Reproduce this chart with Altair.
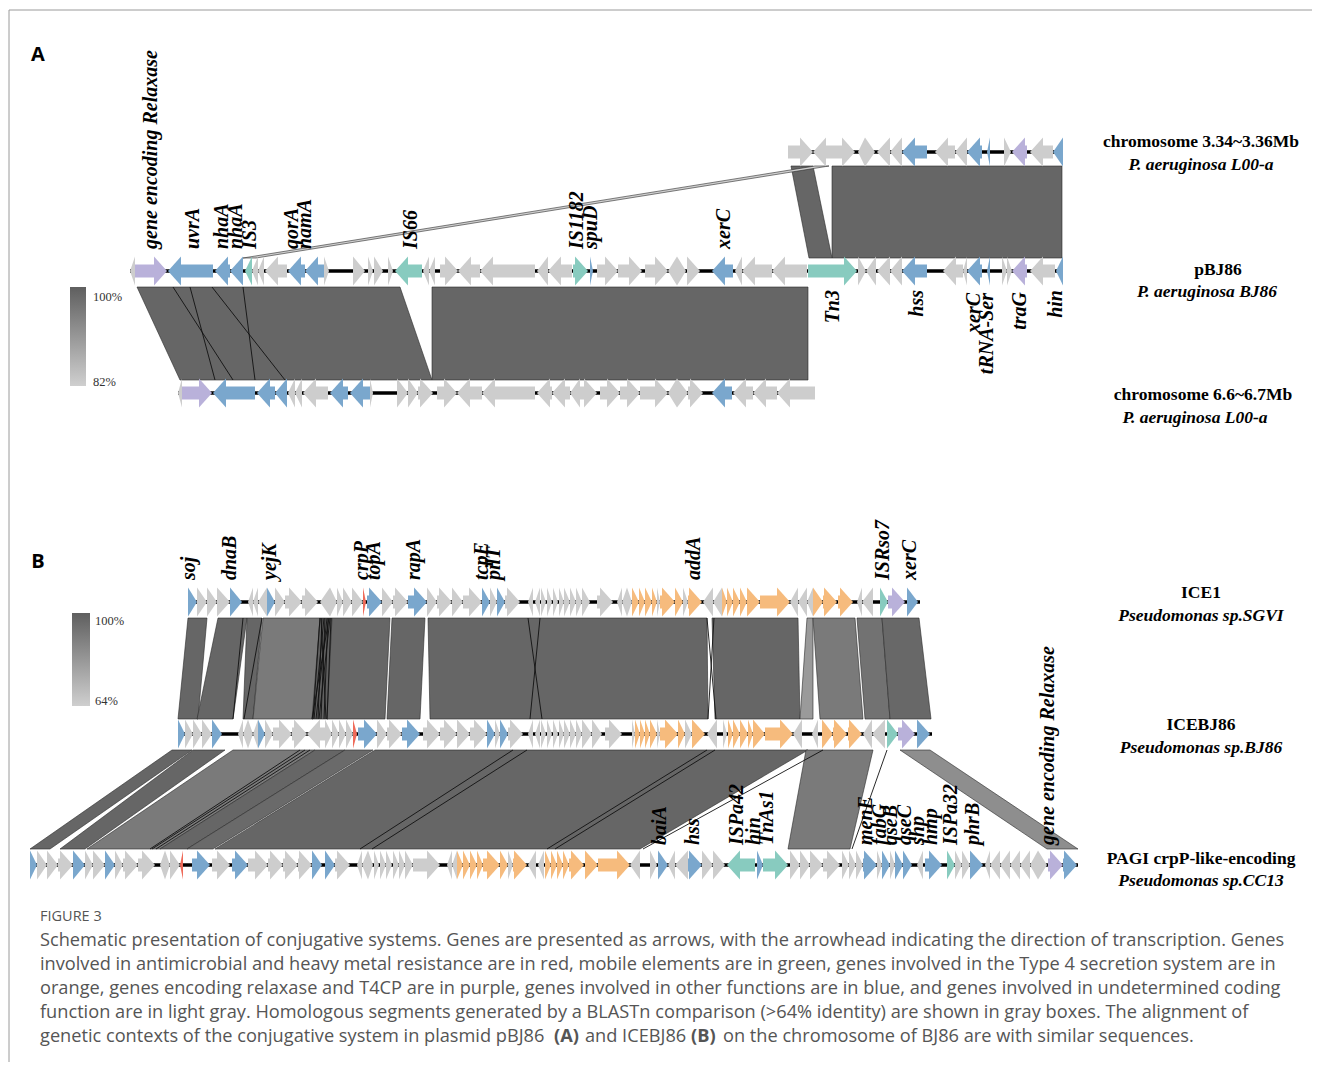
import altair as alt
import pandas as pd

# ---------------- gene data: (start, end, strand, kind) ----------------
A1_genes = [
    (788, 813, 1, 'g'), (813, 828, -1, 'g'), (828, 855, 1, 'g'), (858, 865, -1, 'g'),
    (865, 875, 1, 'g'), (877, 890, -1, 'g'), (890, 902, -1, 'g'), (902, 927, -1, 'b'),
    (935, 955, -1, 'g'), (955, 967, -1, 'g'), (967, 982, -1, 'b'), (987, 990, -1, 'b'),
    (1004, 1011, 1, 'g'), (1012, 1027, -1, 'p'), (1030, 1053, -1, 'g'), (1053, 1063, -1, 'b'),
]
A2_genes = [
    (130, 135, -1, 'g'), (135, 167, 1, 'p'), (168, 213, -1, 'b'), (215, 230, -1, 'b'),
    (230, 243, -1, 'b'), (245, 252, -1, 't'), (252, 258, -1, 'g'), (258, 264, -1, 'g'),
    (265, 287, -1, 'g'), (288, 305, -1, 'b'), (305, 324, -1, 'b'), (324, 329, 1, 'g'),
    (353, 365, 1, 'g'), (368, 373, 1, 'g'), (374, 383, 1, 'g'), (388, 393, 1, 'g'),
    (395, 422, -1, 't'), (423, 429, -1, 'g'), (429, 435, -1, 'g'), (440, 458, 1, 'g'),
    (458, 480, -1, 'g'), (480, 535, -1, 'g'), (537, 548, -1, 'g'), (548, 572, -1, 'g'),
    (573, 588, 1, 't'), (590, 593, 1, 'b'), (597, 618, 1, 'g'), (618, 642, 1, 'g'),
    (645, 668, 1, 'g'), (668, 677, -1, 'g'), (677, 686, 1, 'g'), (687, 700, 1, 'g'),
    (712, 733, -1, 'b'), (735, 742, -1, 'g'), (742, 772, -1, 'g'), (772, 807, -1, 'g'),
    (808, 857, 1, 't'), (858, 866, 1, 'g'), (866, 876, -1, 'g'), (877, 890, -1, 'g'),
    (890, 902, -1, 'g'), (902, 927, -1, 'b'), (943, 963, -1, 'g'), (963, 967, -1, 'g'),
    (967, 982, -1, 'b'), (987, 990, -1, 'b'), (1002, 1007, 1, 'g'), (1007, 1012, 1, 'g'),
    (1012, 1027, -1, 'p'), (1030, 1055, -1, 'g'), (1056, 1063, -1, 'b'),
]
A3_genes = [
    (178, 182, -1, 'g'), (182, 212, 1, 'p'), (213, 255, -1, 'b'), (257, 275, -1, 'b'),
    (275, 287, -1, 'b'), (288, 295, -1, 'g'), (295, 302, -1, 'g'), (303, 328, -1, 'g'),
    (330, 348, -1, 'b'), (350, 370, -1, 'b'), (370, 373, 1, 'g'), (397, 408, 1, 'g'),
    (408, 418, 1, 'g'), (418, 433, 1, 'g'), (437, 457, 1, 'g'), (457, 482, -1, 'g'),
    (482, 535, -1, 'g'), (537, 552, -1, 'g'), (552, 570, -1, 'g'), (570, 580, -1, 'g'),
    (580, 597, 1, 'g'), (600, 620, 1, 'g'), (620, 640, 1, 'g'), (640, 668, 1, 'g'),
    (668, 677, -1, 'g'), (677, 688, 1, 'g'), (688, 703, 1, 'g'), (712, 732, -1, 'b'),
    (733, 753, -1, 'g'), (753, 777, -1, 'g'), (777, 815, -1, 'g'),
]
B1_genes = [
    (188, 197, 1, 'b'), (197, 207, 1, 'g'), (207, 217, 1, 'g'), (217, 230, 1, 'g'),
    (230, 242, 1, 'b'), (248, 253, -1, 'g'), (253, 258, -1, 'g'), (258, 267, -1, 'g'),
    (267, 275, 1, 'b'), (275, 285, 1, 'g'), (285, 302, 1, 'g'), (302, 318, 1, 'g'),
    (320, 330, -1, 'g'), (330, 337, 1, 'g'), (337, 343, 1, 'g'), (343, 352, 1, 'g'),
    (352, 363, 1, 'g'), (363, 366, 1, 'r'), (367, 382, 1, 'b'), (382, 393, 1, 'g'),
    (393, 408, 1, 'g'), (408, 427, 1, 'b'), (427, 437, 1, 'g'), (437, 452, 1, 'g'),
    (452, 463, 1, 'g'), (463, 482, 1, 'g'), (482, 490, 1, 'b'), (490, 497, 1, 'g'),
    (497, 505, 1, 'b'), (505, 520, 1, 'g'), (528, 533, -1, 'g'), (535, 540, -1, 'g'),
    (541, 546, 1, 'g'), (547, 552, 1, 'g'), (553, 558, 1, 'g'), (559, 564, 1, 'g'),
    (564, 570, 1, 'g'), (570, 576, 1, 'g'), (576, 582, 1, 'g'), (582, 590, 1, 'g'),
    (597, 613, 1, 'g'), (617, 622, -1, 'g'), (622, 627, -1, 'g'), (627, 632, 1, 'g'),
    (632, 639, 1, 'o'), (639, 645, 1, 'o'), (645, 652, 1, 'o'), (652, 657, 1, 'o'),
    (657, 660, 1, 'g'), (660, 675, 1, 'o'), (675, 683, 1, 'o'), (683, 688, 1, 'g'),
    (688, 702, 1, 'o'), (703, 713, -1, 'g'), (713, 722, -1, 'g'), (722, 727, 1, 'o'),
    (727, 733, 1, 'o'), (733, 740, 1, 'o'), (740, 747, 1, 'o'), (747, 760, 1, 'o'),
    (760, 790, 1, 'o'), (790, 798, -1, 'g'), (798, 807, -1, 'g'), (807, 813, -1, 'g'),
    (813, 823, 1, 'o'), (823, 837, 1, 'o'), (838, 853, 1, 'o'), (857, 862, -1, 'g'),
    (862, 873, -1, 'g'), (880, 888, 1, 't'), (888, 905, 1, 'p'), (907, 918, 1, 'b'),
]
B2_genes = [
    (178, 185, 1, 'b'), (185, 193, 1, 'g'), (193, 202, 1, 'g'), (202, 212, 1, 'g'),
    (212, 222, 1, 'b'), (238, 243, -1, 'g'), (243, 248, -1, 'g'), (248, 253, 1, 'g'),
    (253, 258, -1, 'g'), (258, 265, 1, 'b'), (265, 273, 1, 'g'), (273, 292, 1, 'g'),
    (292, 307, 1, 'g'), (307, 325, -1, 'g'), (325, 332, 1, 'g'), (332, 339, 1, 'g'),
    (339, 346, 1, 'g'), (346, 353, 1, 'g'), (353, 357, 1, 'r'), (358, 377, 1, 'b'),
    (377, 387, 1, 'g'), (387, 402, 1, 'g'), (402, 420, 1, 'b'), (423, 440, 1, 'g'),
    (440, 457, 1, 'g'), (457, 470, 1, 'g'), (470, 487, 1, 'g'), (487, 495, 1, 'b'),
    (495, 500, 1, 'g'), (500, 508, 1, 'b'), (508, 523, 1, 'g'), (528, 533, -1, 'g'),
    (535, 540, -1, 'g'), (541, 546, 1, 'g'), (547, 552, 1, 'g'), (553, 558, 1, 'g'),
    (559, 564, 1, 'g'), (564, 570, 1, 'g'), (570, 576, 1, 'g'), (576, 582, 1, 'g'),
    (582, 592, 1, 'g'), (592, 602, 1, 'g'), (605, 622, 1, 'g'), (632, 635, 1, 'g'),
    (635, 640, 1, 'o'), (640, 645, 1, 'o'), (645, 650, 1, 'o'), (650, 657, 1, 'o'),
    (657, 660, 1, 'g'), (660, 678, 1, 'o'), (678, 685, 1, 'o'), (685, 692, 1, 'g'),
    (692, 705, 1, 'o'), (707, 717, -1, 'g'), (723, 727, 1, 'g'), (728, 733, 1, 'o'),
    (733, 740, 1, 'o'), (740, 748, 1, 'o'), (748, 753, 1, 'o'), (753, 765, 1, 'o'),
    (765, 793, 1, 'o'), (793, 802, -1, 'g'), (812, 818, -1, 'g'), (822, 833, 1, 'o'),
    (833, 847, 1, 'o'), (848, 862, 1, 'o'), (863, 872, -1, 'g'), (872, 885, -1, 'g'),
    (887, 898, 1, 't'), (898, 915, 1, 'p'), (917, 930, 1, 'b'),
]
B3_genes = [
    (30, 37, 1, 'b'), (37, 47, 1, 'g'), (47, 58, 1, 'g'), (58, 73, 1, 'g'),
    (73, 85, 1, 'b'), (85, 93, 1, 'g'), (93, 105, 1, 'g'), (105, 115, 1, 'b'),
    (115, 123, 1, 'g'), (123, 138, 1, 'g'), (138, 155, 1, 'g'), (160, 165, -1, 'g'),
    (165, 170, 1, 'g'), (170, 180, 1, 'g'), (180, 183, -1, 'r'), (192, 210, 1, 'b'),
    (212, 230, 1, 'g'), (232, 248, 1, 'b'), (248, 268, 1, 'g'), (268, 283, 1, 'g'),
    (283, 298, 1, 'g'), (298, 312, 1, 'g'), (312, 322, 1, 'b'), (325, 335, 1, 'b'),
    (335, 350, 1, 'g'), (357, 362, -1, 'g'), (362, 368, -1, 'g'), (368, 373, 1, 'g'),
    (374, 379, 1, 'g'), (380, 386, 1, 'g'), (386, 392, 1, 'g'), (393, 399, 1, 'g'),
    (399, 405, 1, 'g'), (405, 413, 1, 'g'), (413, 440, 1, 'g'), (447, 452, -1, 'g'),
    (452, 457, -1, 'g'), (457, 463, 1, 'o'), (463, 470, 1, 'o'), (470, 477, 1, 'o'),
    (477, 483, 1, 'o'), (483, 500, 1, 'o'), (500, 508, 1, 'o'), (508, 513, 1, 'g'),
    (513, 527, 1, 'o'), (528, 536, -1, 'g'), (538, 544, -1, 'g'), (545, 551, 1, 'o'),
    (551, 557, 1, 'o'), (557, 563, 1, 'o'), (563, 569, 1, 'o'), (569, 584, 1, 'o'),
    (585, 598, 1, 'o'), (598, 630, 1, 'o'), (630, 640, -1, 'g'), (650, 657, 1, 'g'),
    (658, 668, 1, 'b'), (668, 675, -1, 'g'), (675, 688, -1, 'g'), (688, 702, 1, 'b'),
    (702, 713, 1, 'g'), (713, 725, 1, 'g'), (727, 755, -1, 't'), (757, 763, 1, 'b'),
    (763, 788, 1, 't'), (790, 800, 1, 'g'), (800, 810, 1, 'g'), (810, 823, 1, 'g'),
    (823, 840, 1, 'g'), (842, 849, 1, 'g'), (849, 856, 1, 'g'), (856, 863, 1, 'g'),
    (863, 877, 1, 'b'), (877, 882, 1, 'g'), (882, 890, 1, 'b'), (890, 895, 1, 'g'),
    (895, 903, 1, 'b'), (903, 912, 1, 'b'), (917, 923, -1, 'g'), (925, 942, 1, 'b'),
    (947, 955, 1, 't'), (955, 962, 1, 'g'), (962, 970, 1, 'g'), (970, 983, 1, 'b'),
    (985, 990, -1, 'g'), (990, 1000, -1, 'g'), (1000, 1010, -1, 'g'), (1010, 1020, -1, 'g'),
    (1020, 1030, -1, 'g'), (1030, 1038, -1, 'g'), (1038, 1047, 1, 'g'), (1048, 1063, 1, 'p'),
    (1063, 1077, 1, 'b'),
]

# track: (genes, y centre, backbone start, backbone end)
tracks = {
    "A1": (A1_genes, 152, 788, 1063),
    "A2": (A2_genes, 271, 130, 1063),
    "A3": (A3_genes, 393, 178, 815),
    "B1": (B1_genes, 602, 188, 920),
    "B2": (B2_genes, 734, 178, 932),
    "B3": (B3_genes, 865, 30, 1078),
}

kind_colors = {'g': '#cdcdcd', 'b': '#7aa7cd', 't': '#88cbbf', 'p': '#b9b1da',
               'o': '#f6bb7d', 'r': '#ef6b5a'}

# homology blocks: (top_x1, top_x2, bottom_x1, bottom_x2, shade)
A12_blocks = [(832, 1062, 832, 1062, '#666666'), (791, 813, 809, 832, '#666666')]
A12_band = [(815, 829, 243, 256, '#d0d0d0')]
A23_blocks = [(137, 400, 180, 432, '#666666'), (432, 808, 432, 808, '#666666')]
A23_lines = [(173, 233), (190, 215), (212, 285), (243, 255)]
B12_blocks = [
    (188, 207, 178, 198, '#666666'), (218, 247, 197, 233, '#666666'),
    (247, 262, 243, 253, '#666666'), (263, 320, 253, 313, '#7a7a7a'),
    (320, 332, 312, 328, '#606060'), (332, 390, 327, 385, '#666666'),
    (392, 425, 387, 420, '#666666'), (428, 707, 430, 708, '#666666'),
    (712, 798, 715, 800, '#666666'), (807, 813, 800, 813, '#9a9a9a'),
    (813, 855, 820, 863, '#7a7a7a'), (857, 882, 865, 890, '#727272'),
    (882, 919, 890, 931, '#686868'),
]
B12_lines = [(528, 542), (540, 530), (707, 716), (714, 708),
             (320, 313), (322, 318), (324, 314), (325, 321), (327, 316), (328, 324),
             (330, 319), (331, 327), (321, 326), (329, 312), (262, 244), (243, 233)]
B23_blocks = [
    (172, 192, 30, 50, '#666666'), (193, 225, 60, 85, '#666666'),
    (233, 315, 87, 160, '#7a7a7a'), (315, 345, 160, 187, '#666666'),
    (345, 373, 187, 213, '#6a6a6a'), (375, 808, 215, 640, '#666666'),
    (806, 873, 788, 850, '#7a7a7a'), (900, 930, 1047, 1078, '#8e8e8e'),
]
B23_lines = [(513, 360), (527, 372), (300, 150), (305, 152), (310, 156), (707, 547),
             (715, 555), (823, 643), (887, 852)]

# block y extents
pair_y = {"A12": (166, 258), "A23": (287, 380), "B12": (618, 719), "B23": (750, 849)}

# labels above / below tracks: (text, x, y)
A_top_labels = [
    ("gene encoding Relaxase", 151, 249), ("uvrA", 193, 249), ("nhaA", 222, 249),
    ("nhaA", 236, 249), ("IS3", 250, 249), ("qorA", 292, 249), ("namA", 305, 249),
    ("IS66", 411, 249), ("IS1182", 577, 249), ("spuD", 591, 249), ("xerC", 724, 249),
]
A_bottom_labels = [
    ("Tn3", 833, 290), ("hss", 917, 290), ("xerC", 974, 293), ("tRNA-Ser", 987, 293),
    ("traG", 1020, 292), ("hin", 1056, 290),
]
B_top_labels = [
    ("soj", 189, 580), ("dnaB", 230, 580), ("yejK", 270, 580), ("crpP", 362, 580),
    ("topA", 374, 580), ("rapA", 414, 580), ("tcpE", 482, 580), ("pilT", 494, 580),
    ("addA", 694, 580), ("ISRso7", 883, 580), ("xerC", 910, 580),
]
B3_labels = [
    ("baiA", 660, 845), ("hss", 693, 845), ("ISPa42", 737, 845), ("hin", 754, 845),
    ("TnAs1", 767, 845), ("menE", 866, 845), ("fabG", 880, 845), ("qseB", 891, 845),
    ("qseC", 905, 845), ("shp", 918, 845), ("hmp", 931, 845), ("ISPa32", 951, 845),
    ("phrB", 973, 845), ("gene encoding Relaxase", 1048, 845),
]
track_names = [
    ("chromosome 3.34~3.36Mb", 1201, 142, False), ("P. aeruginosa L00-a", 1201, 165, True),
    ("pBJ86", 1218, 270, False), ("P. aeruginosa BJ86", 1207, 292, True),
    ("chromosome 6.6~6.7Mb", 1203, 395, False), ("P. aeruginosa L00-a", 1195, 418, True),
    ("ICE1", 1201, 593, False), ("Pseudomonas sp.SGVI", 1201, 616, True),
    ("ICEBJ86", 1201, 725, False), ("Pseudomonas sp.BJ86", 1201, 748, True),
    ("PAGI crpP-like-encoding", 1201, 859, False), ("Pseudomonas sp.CC13", 1201, 881, True),
]
legend_boxes = [(70, 86, 287, 386), (72, 90, 613, 706)]
legend_labels = [("100%", 93, 297), ("82%", 93, 382), ("100%", 95, 621), ("64%", 95, 701)]
panel_letters = [("A", 38, 55), ("B", 38, 562)]

caption_lines = [
    "Schematic presentation of conjugative systems. Genes are presented as arrows, with the arrowhead indicating the direction of transcription. Genes",
    "involved in antimicrobial and heavy metal resistance are in red, mobile elements are in green, genes involved in the Type 4 secretion system are in",
    "orange, genes encoding relaxase and T4CP are in purple, genes involved in other functions are in blue, and genes involved in undetermined coding",
    "function are in light gray. Homologous segments generated by a BLASTn comparison (>64% identity) are shown in gray boxes. The alignment of",
]
caption_last = [
    ("genetic contexts of the conjugative system in plasmid pBJ86", 40, False),
    ("(A)", 554, True), ("and ICEBJ86", 585, False), ("(B)", 691, True),
    ("on the chromosome of BJ86 are with similar sequences.", 723, False),
]

# ---------------- build tables ----------------
HEAD = 13
H = 14.5
SH = 6.5
shaft_rows, head_rows, bb_rows = [], [], []
gid = 0
for tname, (genes, yc, b0, b1) in tracks.items():
    bb_rows.append({"x": b0, "x2": b1, "y": yc})
    for (s, e, strand, kind) in genes:
        gid += 1
        col = kind_colors[kind]
        hl = min(HEAD, e - s)
        if strand > 0:
            base, tip = e - hl, e
            if base > s:
                shaft_rows.append({"x": s, "x2": base, "y": yc - SH, "y2": yc + SH, "c": col})
        else:
            base, tip = s + hl, s
            if e > base:
                shaft_rows.append({"x": base, "x2": e, "y": yc - SH, "y2": yc + SH, "c": col})
        head_rows.append({"id": gid, "x": base, "y": yc - H, "y2": yc + H, "c": col})
        head_rows.append({"id": gid, "x": tip, "y": yc, "y2": yc, "c": col})

block_rows, line_rows = [], []
bid = 0
for pair, blocks in [("A12", A12_blocks), ("A23", A23_blocks), ("B12", B12_blocks),
                     ("B23", B23_blocks), ("A12", A12_band)]:
    yt, yb = pair_y[pair]
    for (t1, t2, b1_, b2_, shade) in blocks:
        bid += 1
        block_rows.append({"id": bid, "y": yt, "x": t1, "x2": t2, "c": shade})
        block_rows.append({"id": bid, "y": yb, "x": b1_, "x2": b2_, "c": shade})
for pair, lines in [("A23", A23_lines), ("B12", B12_lines), ("B23", B23_lines)]:
    yt, yb = pair_y[pair]
    for (xt, xb) in lines:
        line_rows.append({"x": xt, "y": yt, "x2": xb, "y2": yb})

XS = alt.Scale(domain=[8, 1312], nice=False, zero=False)
YS = alt.Scale(domain=[8, 1062], nice=False, zero=False, reverse=True)


def X(f="x", **kw):
    return alt.X(f"{f}:Q", scale=XS, axis=None, **kw)


def Y(f="y", **kw):
    return alt.Y(f"{f}:Q", scale=YS, axis=None, **kw)


layers = []

# frame
frame = pd.DataFrame([{"x": 9, "x2": 1312, "y": 10, "y2": 10}, {"x": 9, "x2": 9, "y": 10, "y2": 1062}])
layers.append(alt.Chart(frame).mark_rule(color="#9a9a9a", strokeWidth=1).encode(
    x=X(), x2="x2:Q", y=Y(), y2="y2:Q"))

# homology blocks
layers.append(alt.Chart(pd.DataFrame(block_rows)).mark_area(
    orient="horizontal", stroke="#2a2a2a", strokeWidth=0.6).encode(
    y=Y(), x=X(stack=None), x2="x2:Q", detail="id:N",
    color=alt.Color("c:N", scale=None)))
layers.append(alt.Chart(pd.DataFrame(line_rows)).mark_rule(color="#111111", strokeWidth=0.9).encode(
    x=X(), x2="x2:Q", y=Y(), y2="y2:Q"))

# backbones
layers.append(alt.Chart(pd.DataFrame(bb_rows)).mark_rule(color="#000000", strokeWidth=3.5).encode(
    x=X(), x2="x2:Q", y=Y()))

# gene shafts and heads
layers.append(alt.Chart(pd.DataFrame(shaft_rows)).mark_rect().encode(
    x=X(), x2="x2:Q", y=Y(), y2="y2:Q", color=alt.Color("c:N", scale=None)))
layers.append(alt.Chart(pd.DataFrame(head_rows)).mark_area(orient="vertical").encode(
    x=X(), y=Y(stack=None), y2="y2:Q", detail="id:N", color=alt.Color("c:N", scale=None)))

# gene labels
lab_style = dict(font="Liberation Serif", fontStyle="italic", fontWeight="bold",
                 fontSize=20, angle=270, baseline="middle", color="#000000")
for rows, align in [(A_top_labels, "left"), (B_top_labels, "left"), (B3_labels, "left"),
                    (A_bottom_labels, "right")]:
    df = pd.DataFrame(rows, columns=["t", "x", "y"])
    layers.append(alt.Chart(df).mark_text(align=align, **lab_style).encode(
        x=X(), y=Y(), text="t:N"))

# track names
tn = pd.DataFrame(track_names, columns=["t", "x", "y", "it"])
layers.append(alt.Chart(tn[~tn.it]).mark_text(
    font="Liberation Serif", fontWeight="bold", fontSize=17.5, align="center",
    baseline="middle", color="#000000").encode(x=X(), y=Y(), text="t:N"))
layers.append(alt.Chart(tn[tn.it]).mark_text(
    font="Liberation Serif", fontWeight="bold", fontStyle="italic", fontSize=17.5,
    align="center", baseline="middle", color="#000000").encode(x=X(), y=Y(), text="t:N"))

# identity gradient legends
grad = alt.LinearGradient(gradient="linear", x1=0, x2=0, y1=0, y2=1,
                          stops=[alt.GradientStop(color="#5f5f5f", offset=0),
                                 alt.GradientStop(color="#cfcfcf", offset=1)])
lb = pd.DataFrame(legend_boxes, columns=["x", "x2", "y", "y2"])
layers.append(alt.Chart(lb).mark_rect(color=grad).encode(x=X(), x2="x2:Q", y=Y(), y2="y2:Q"))
ll = pd.DataFrame(legend_labels, columns=["t", "x", "y"])
layers.append(alt.Chart(ll).mark_text(font="Liberation Serif", fontSize=12.5, align="left",
                                      baseline="middle", color="#333333").encode(
    x=X(), y=Y(), text="t:N"))

# panel letters
pl = pd.DataFrame(panel_letters, columns=["t", "x", "y"])
layers.append(alt.Chart(pl).mark_text(font="Open Sans", fontWeight="bold", fontSize=20,
                                      align="center", baseline="middle", color="#000000").encode(
    x=X(), y=Y(), text="t:N"))

# caption
CAP = 18.2
cap_rows = [{"t": "FIGURE 3", "x": 40, "y": 917}]
layers.append(alt.Chart(pd.DataFrame(cap_rows)).mark_text(
    font="Open Sans", fontSize=14.5, align="left", baseline="middle", color="#555555").encode(
    x=X(), y=Y(), text="t:N"))
cl = pd.DataFrame([{"t": t, "x": 40, "y": 941 + 24 * i} for i, t in enumerate(caption_lines)])
layers.append(alt.Chart(cl).mark_text(font="Open Sans", fontSize=CAP, align="left",
                                      baseline="middle", color="#555555").encode(
    x=X(), y=Y(), text="t:N"))
last = pd.DataFrame([{"t": t, "x": x, "y": 1037, "b": b} for (t, x, b) in caption_last])
layers.append(alt.Chart(last[~last.b]).mark_text(font="Open Sans", fontSize=CAP, align="left",
                                                 baseline="middle", color="#555555").encode(
    x=X(), y=Y(), text="t:N"))
layers.append(alt.Chart(last[last.b]).mark_text(font="Open Sans", fontSize=CAP, fontWeight="bold",
                                                align="left", baseline="middle",
                                                color="#555555").encode(
    x=X(), y=Y(), text="t:N"))

chart = alt.layer(*layers).properties(
    width=1304, height=1054, padding=0,
    autosize=alt.AutoSizeParams(type="none"),
).configure_view(stroke=None)

chart.save("out.html", embed_options={"renderer": "svg", "actions": False})
